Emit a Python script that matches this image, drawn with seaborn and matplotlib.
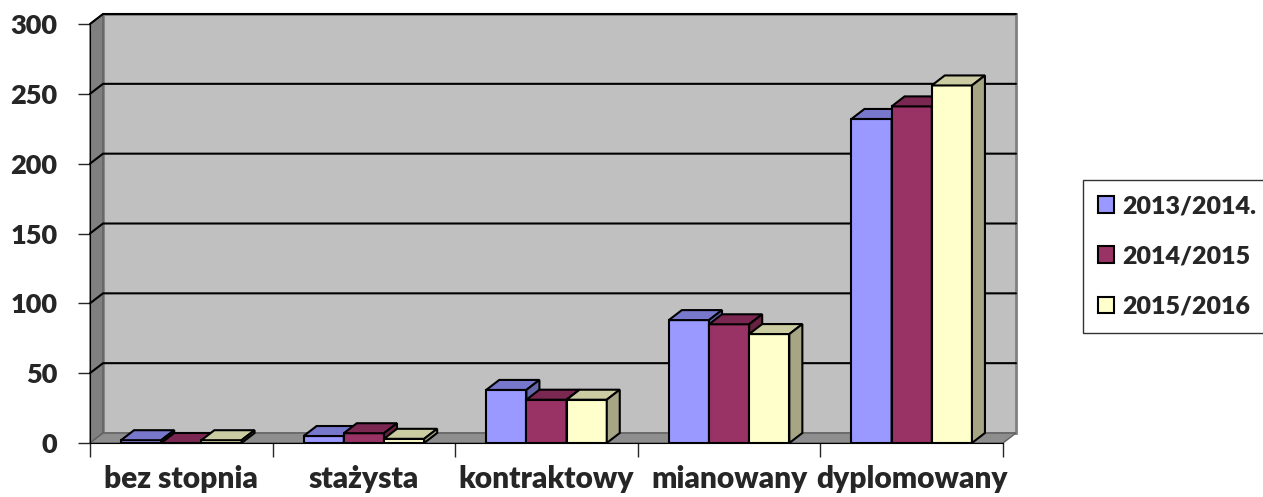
import numpy as np
import pandas as pd
import matplotlib.pyplot as plt
from matplotlib.patches import Polygon
import seaborn as sns

stopnie = ["bez stopnia", "stażysta", "kontraktowy", "mianowany", "dyplomowany"]
lata = ["2013/2014.", "2014/2015", "2015/2016"]
v_2013 = [2, 5, 38, 88, 232]
v_2014 = [0, 7, 31, 85, 241]
v_2015 = [2, 3, 31, 78, 256]

kolory = ["#9999FF", "#993366", "#FFFFCC"]
kolory_gora = ["#7777CC", "#7A2852", "#CCCCA3"]
kolory_bok = ["#6666AA", "#66223F", "#A6A684"]

df = pd.DataFrame({
    "stopien": stopnie * 3,
    "rok": np.repeat(lata, len(stopnie)),
    "liczba": v_2013 + v_2014 + v_2015,
})

sns.set_style("white")
plt.rcParams["font.family"] = ["Lato", "DejaVu Sans"]
plt.rcParams["font.weight"] = "bold"

W, H = 1263, 497
fig = plt.figure(figsize=(W / 100, H / 100), dpi=100)
ax = fig.add_axes([90 / W, 54 / H, 913 / W, 419 / H])

sns.barplot(data=df, x="stopien", y="liczba", hue="rok", palette=kolory,
            width=0.66, saturation=1, edgecolor="black", linewidth=1.5,
            ax=ax, zorder=3)
ax.set_xlim(-0.5, 4.5)
ax.set_ylim(0, 300)

# glebokosc 3d w jednostkach danych
dx = 13 / (913 / 5)
dy = 10 / (419 / 300)

for i, cont in enumerate(ax.containers):
    z = 3 + i * 0.1
    for b in cont:
        b.set_zorder(z)
        x0, w, h = b.get_x(), b.get_width(), b.get_height()
        top = Polygon([(x0, h), (x0 + w, h), (x0 + w + dx, h + dy), (x0 + dx, h + dy)],
                      closed=True, facecolor=kolory_gora[i], edgecolor="black",
                      linewidth=1.5, zorder=z + 0.05, clip_on=False)
        side = Polygon([(x0 + w, 0), (x0 + w + dx, dy), (x0 + w + dx, h + dy), (x0 + w, h)],
                       closed=True, facecolor=kolory_bok[i], edgecolor="black",
                       linewidth=1.5, zorder=z + 0.05, clip_on=False)
        ax.add_patch(top)
        ax.add_patch(side)

x0, x1 = -0.5, 4.5
ax.add_patch(Polygon([(x0 + dx, dy), (x1 + dx, dy), (x1 + dx, 300 + dy), (x0 + dx, 300 + dy)],
                     facecolor="#C0C0C0", edgecolor="#808080", linewidth=2, zorder=0, clip_on=False))
ax.add_patch(Polygon([(x0, 0), (x0 + dx, dy), (x0 + dx, 300 + dy), (x0, 300)],
                     facecolor="#808080", edgecolor="#606060", linewidth=1, zorder=0.5, clip_on=False))
ax.add_patch(Polygon([(x0, 0), (x1, 0), (x1 + dx, dy), (x0 + dx, dy)],
                     facecolor="#8E8E8E", edgecolor="#606060", linewidth=1, zorder=0.5, clip_on=False))
for y in range(50, 301, 50):
    ax.plot([x0, x0 + dx, x1 + dx], [y, y + dy, y + dy], color="black", lw=1.5,
            zorder=1, clip_on=False)

ax.set_facecolor("none")
for s in ["top", "right"]:
    ax.spines[s].set_visible(False)
ax.spines["left"].set_color("black")
ax.spines["bottom"].set_color("black")
ax.spines["left"].set_zorder(2)

ax.set_yticks(range(0, 301, 50))
ax.tick_params(axis="y", direction="out", length=9, width=1, pad=14.5, labelsize=19.5, left=True)
ax.set_xticks(range(5))
ax.set_xticklabels(stopnie)
ax.set_xticks(np.arange(-0.5, 5, 1), minor=True)
ax.tick_params(axis="x", which="major", length=0, pad=15.5, labelsize=21.5)
ax.tick_params(axis="x", which="minor", direction="out", length=10, width=1, bottom=True)
for t in ax.get_xticklabels() + ax.get_yticklabels():
    t.set_fontweight("heavy")
ax.set_xlabel("")
ax.set_ylabel("")

handles, labels = ax.get_legend_handles_labels()
ax.get_legend().remove()
leg = fig.legend(handles, labels, loc="center left", bbox_to_anchor=(1083 / W, 1 - 256.5 / H),
                 frameon=True, fancybox=False, edgecolor="black", fontsize=18,
                 handlelength=0.64, handleheight=0.64, labelspacing=1.13,
                 handletextpad=0.32, borderpad=0.6, borderaxespad=0)
leg.get_frame().set_linewidth(1)
for t in leg.get_texts():
    t.set_fontweight("heavy")
for h in leg.legend_handles:
    h.set_edgecolor("black")
    h.set_linewidth(1.5)

fig.savefig("out.png", dpi=100)
